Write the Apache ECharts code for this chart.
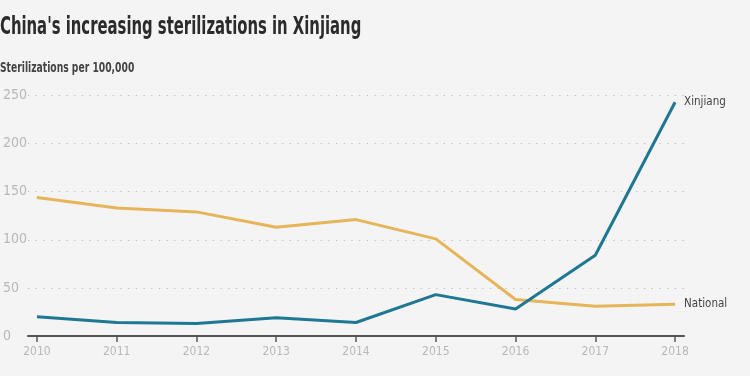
<!DOCTYPE html>
<html>
<head>
<meta charset="utf-8">
<script src="https://cdn.jsdelivr.net/npm/echarts@6/dist/echarts.min.js"></script>
<style>
html, body { margin: 0; padding: 0; background: #f4f4f4; }
#chart { width: 750px; height: 376px; }
</style>
</head>
<body>
<div id="chart"></div>
<script>
var years = [2010, 2011, 2012, 2013, 2014, 2015, 2016, 2017, 2018];
var xinjiang = [20, 14, 13, 19, 14, 43, 28, 84, 243];
var national = [144, 133, 129, 113, 121, 101, 38, 31, 33];

var fontFam = '"DejaVu Sans Condensed", "Liberation Sans Narrow", sans-serif';

function pairs(vals) {
    return years.map(function (y, i) { return [y, vals[i]]; });
}

var chart = echarts.init(document.getElementById('chart'));
var option = {
    backgroundColor: '#f4f4f4',
    animation: false,
    // titles drawn as graphic text so they can be squeezed like the condensed original
    graphic: [
        {
            type: 'text', x: 0, y: 15, scaleX: 0.66,
            style: {
                text: "China's increasing sterilizations in Xinjiang",
                font: 'bold 25px ' + fontFam, fill: '#2b2b2b'
            }
        },
        {
            type: 'text', x: 0, y: 61, scaleX: 0.73,
            style: {
                text: 'Sterilizations per 100,000',
                font: 'bold 14px ' + fontFam, fill: '#444'
            }
        }
    ],
    grid: { left: 25, right: 66, top: 95.5, bottom: 40 },
    xAxis: {
        type: 'value',
        min: 2009.888,
        max: 2018.112,
        splitLine: { show: false },
        axisLine: { show: true, onZero: false, lineStyle: { color: '#555', width: 2 } },
        axisTick: { show: true, customValues: years, length: 6, lineStyle: { color: '#555', width: 1.5 } },
        axisLabel: {
            customValues: years,
            color: '#b8b8b8', fontFamily: fontFam, fontSize: 12, margin: 10,
            formatter: function (v) { return String(v); }
        }
    },
    yAxis: {
        type: 'value',
        min: 0, max: 250, interval: 50,
        axisLine: { show: false },
        axisTick: { show: false },
        axisLabel: {
            align: 'left', margin: 25,
            color: '#b8b8b8', fontFamily: fontFam, fontSize: 14
        },
        splitLine: { lineStyle: { color: '#bdbdbd', type: [1.2, 6.5], width: 1.2 } }
    },
    series: [
        {
            name: 'National',
            type: 'line',
            data: pairs(national),
            symbol: 'none',
            lineStyle: { color: '#e6b55a', width: 3 },
            endLabel: { show: true, formatter: '{a}', color: '#444', fontFamily: fontFam, fontSize: 11.5, distance: 9 }
        },
        {
            name: 'Xinjiang',
            type: 'line',
            data: pairs(xinjiang),
            symbol: 'none',
            lineStyle: { color: '#1f7893', width: 3 },
            endLabel: { show: true, formatter: '{a}', color: '#444', fontFamily: fontFam, fontSize: 11.5, distance: 9 }
        }
    ]
};
chart.setOption(option);
</script>
</body>
</html>
